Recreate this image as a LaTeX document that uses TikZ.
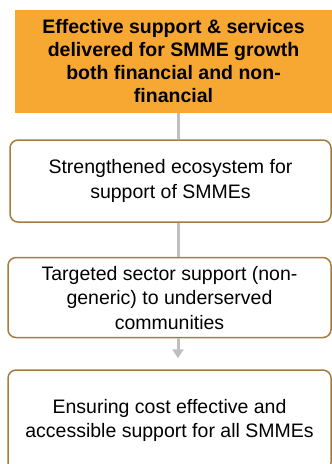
\documentclass[tikz,border=0pt]{standalone}
\usepackage{fontspec}
\setmainfont{Liberation Sans}
\usepackage{xcolor}
\usetikzlibrary{positioning, arrows.meta}

\definecolor{goalfill}{RGB}{247,168,50}
\definecolor{boxline}{RGB}{166,124,61}
\definecolor{linkgrey}{RGB}{191,191,191}

\begin{document}
\begin{tikzpicture}[x=1pt,y=1pt,
    goal/.style={fill=goalfill, align=center, minimum width=317pt, minimum height=103pt,
      font=\fontsize{19.5}{23}\selectfont\bfseries},
    outcome/.style={draw=boxline, line width=1.5pt, rounded corners=8pt, fill=white,
      align=center, minimum width=321pt, font=\fontsize{19.5}{24.5}\selectfont},
    link/.style={draw=linkgrey, line width=3pt},
    semithick]
      \useasboundingbox (0,0) rectangle (332,-464);
      \clip (0,0) rectangle (332,-464);
      \coordinate (spine) at (178,0);

      \node[goal] (goal) at (173.5,-61.5) {Effective support \& services\\delivered for SMME growth\\both financial and non-\\financial};
      \node[outcome, minimum height=82pt] (eco) [below=26pt of goal, xshift=-3pt] {Strengthened ecosystem for\\support of SMMEs};
      \node[outcome, minimum height=80pt, minimum width=323pt] (sector) [below=34pt of eco, xshift=-1pt] {Targeted sector support (non-\\generic) to underserved\\communities};
      \node[outcome, minimum height=101pt, minimum width=323pt] (access) [below=31pt of sector] {Ensuring cost effective and\\accessible support for all SMMEs};

      \draw[link] (spine |- goal.south) -- (spine |- eco.north);
      \draw[link] (spine |- eco.south) -- (spine |- sector.north);
      \draw[link, -{Triangle[width=11pt,length=9pt]}, shorten >=11pt]
            (spine |- sector.south) -- (spine |- access.north);
    \end{tikzpicture}
\end{document}
